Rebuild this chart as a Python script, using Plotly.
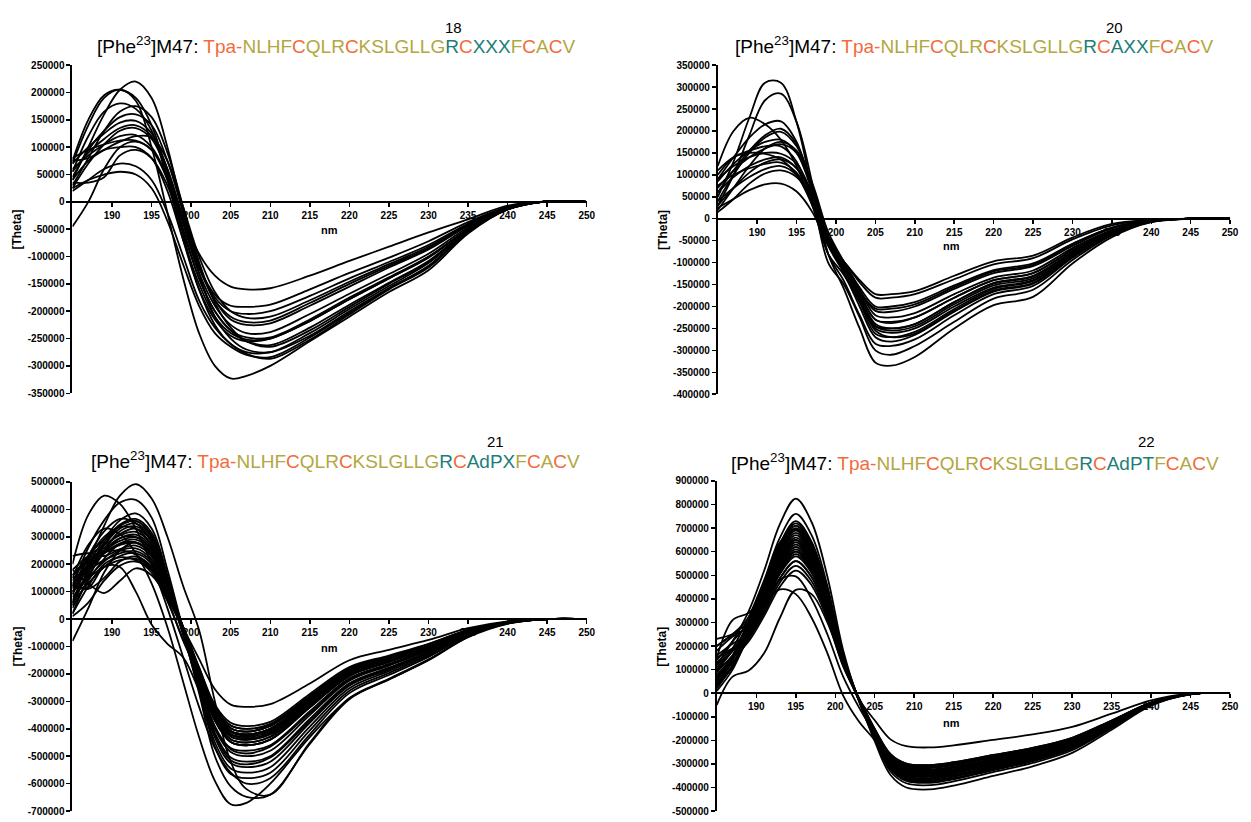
import plotly.graph_objects as go

W, H = 1251, 822
FONT = "Arial, Liberation Sans, sans-serif"

# ---------------- data (theta values in thousands of deg*cm2/dmol) ----------------
WL_18 = [185, 187, 189, 191, 193, 195, 197, 199, 201, 203, 205, 207, 210, 215, 220, 225, 230, 235, 240, 245, 250]
THETA18_K = [
    [70, 140, 190, 205, 185, 100, -20, -140, -240, -300, -323, -318, -300, -255, -210, -165, -125, -58, -14, 1, 0],
    [40, 100, 160, 205, 220, 190, 100, -20, -130, -210, -250, -270, -275, -245, -200, -158, -118, -55, -14, 1, 0],
    [55, 120, 165, 180, 170, 130, 40, -70, -160, -215, -245, -255, -250, -218, -178, -140, -102, -50, -12, 1, 0],
    [30, 80, 130, 165, 175, 155, 90, -10, -110, -185, -230, -255, -265, -235, -192, -150, -110, -53, -13, 1, 0],
    [45, 95, 130, 155, 160, 140, 75, -20, -115, -180, -215, -225, -222, -190, -155, -120, -87, -44, -11, 1, 0],
    [70, 100, 125, 145, 148, 125, 60, -40, -130, -190, -225, -240, -238, -205, -168, -132, -95, -47, -12, 1, 0],
    [25, 70, 105, 130, 135, 115, 55, -35, -120, -175, -200, -205, -200, -172, -140, -110, -79, -40, -10, 1, 0],
    [60, 85, 105, 120, 122, 100, 45, -30, -95, -135, -155, -160, -158, -135, -108, -82, -56, -32, -7, 1, 0],
    [80, 95, 105, 112, 112, 95, 45, -40, -120, -170, -190, -192, -188, -160, -130, -102, -72, -37, -9, 1, 0],
    [75, 80, 95, 100, 100, 80, 20, -70, -150, -210, -240, -252, -250, -218, -178, -140, -101, -50, -12, 1, 0],
    [-45, 0, 60, 100, 110, 95, 40, -50, -140, -200, -235, -248, -248, -215, -175, -138, -100, -50, -12, 1, 0],
    [35, 35, 45, 85, 95, 80, 30, -55, -140, -200, -235, -255, -262, -230, -188, -148, -108, -52, -13, 1, 0],
    [20, 40, 60, 70, 65, 40, -20, -100, -180, -230, -260, -278, -287, -252, -206, -160, -120, -56, -14, 1, 0],
    [25, 40, 50, 55, 50, 25, -35, -115, -190, -240, -265, -280, -284, -248, -203, -158, -117, -55, -14, 1, 0],
    [55, 90, 115, 135, 140, 120, 60, -30, -120, -180, -210, -220, -217, -185, -150, -117, -85, -43, -11, 1, 0],
    [40, 75, 95, 110, 120, 118, 75, -10, -100, -165, -200, -212, -210, -180, -146, -114, -82, -41, -10, 1, 0],
    [75, 150, 195, 205, 190, 140, 50, -60, -160, -225, -260, -275, -275, -240, -196, -154, -112, -54, -13, 1, 0],
]

WL_20 = [185, 187, 189, 191, 193, 195, 197, 199, 201, 203, 205, 207, 210, 215, 220, 225, 230, 235, 240, 245, 250]
THETA20_K = [
    [50, 130, 230, 310, 310, 220, 60, -100, -150, -225, -300, -310, -290, -235, -182, -162, -94, -38, -7, 0, 0],
    [30, 100, 190, 270, 285, 220, 80, -80, -160, -250, -328, -335, -315, -250, -197, -178, -102, -42, -8, 0, 0],
    [120, 200, 230, 215, 180, 120, 30, -80, -128, -190, -245, -250, -240, -190, -146, -130, -76, -30, -6, 0, 0],
    [90, 140, 185, 215, 222, 175, 60, -80, -142, -220, -285, -290, -275, -220, -172, -153, -89, -36, -7, 0, 0],
    [60, 110, 155, 190, 205, 170, 70, -60, -124, -200, -270, -280, -265, -212, -166, -148, -86, -34, -7, 0, 0],
    [40, 100, 150, 185, 198, 165, 75, -40, -105, -170, -230, -238, -225, -180, -140, -124, -72, -28, -6, 0, 0],
    [85, 125, 155, 175, 180, 150, 60, -60, -112, -165, -210, -212, -200, -160, -124, -108, -62, -22, -5, 0, 0],
    [20, 70, 120, 160, 175, 155, 80, -30, -98, -157, -200, -200, -190, -152, -117, -102, -57, -20, -4, 0, 0],
    [100, 140, 155, 165, 165, 130, 40, -60, -98, -140, -172, -172, -165, -130, -97, -84, -43, -12, -3, 0, 0],
    [110, 140, 150, 148, 135, 100, 30, -60, -98, -145, -180, -180, -172, -138, -104, -90, -47, -15, -3, 0, 0],
    [60, 95, 120, 135, 140, 115, 50, -50, -110, -180, -245, -255, -245, -195, -152, -136, -79, -32, -6, 0, 0],
    [30, 70, 105, 128, 135, 115, 55, -40, -105, -175, -240, -250, -240, -190, -148, -132, -76, -30, -6, 0, 0],
    [75, 100, 115, 125, 128, 105, 40, -60, -116, -183, -250, -260, -250, -200, -157, -140, -81, -33, -6, 0, 0],
    [40, 70, 95, 113, 120, 100, 40, -50, -105, -170, -230, -235, -225, -180, -140, -124, -71, -28, -5, 0, 0],
    [15, 45, 80, 103, 110, 95, 45, -40, -98, -162, -220, -225, -215, -172, -134, -118, -67, -26, -5, 0, 0],
    [25, 45, 65, 78, 80, 62, 15, -60, -112, -183, -255, -270, -262, -210, -164, -146, -85, -34, -6, 0, 0],
    [70, 110, 140, 160, 170, 150, 70, -50, -112, -166, -205, -205, -195, -156, -120, -105, -58, -21, -4, 0, 0],
    [90, 120, 140, 150, 148, 125, 55, -55, -120, -190, -262, -270, -258, -206, -160, -142, -83, -33, -6, 0, 0],
]

WL_21 = [185, 187, 189, 191, 193, 195, 197, 199, 201, 203, 205, 207, 210, 215, 220, 225, 230, 235, 240, 245, 250]
THETA21_K = [
    [60, 210, 340, 450, 492, 440, 300, 120, -40, -300, -520, -620, -640, -450, -288, -218, -147, -64, -16, 0, 0],
    [200, 380, 450, 420, 330, 200, 40, -140, -320, -470, -560, -600, -580, -420, -270, -204, -138, -60, -15, 0, 0],
    [120, 260, 360, 425, 435, 370, 180, -40, -250, -450, -545, -560, -540, -392, -252, -190, -129, -56, -14, 0, 0],
    [90, 200, 290, 360, 385, 330, 160, -50, -260, -465, -565, -580, -560, -406, -261, -197, -133, -58, -14, 0, 0],
    [150, 270, 330, 310, 240, 130, -30, -230, -430, -590, -675, -670, -600, -430, -290, -220, -150, -66, -17, 0, 0],
    [50, 180, 280, 345, 365, 315, 150, -40, -240, -420, -515, -530, -505, -371, -238, -180, -122, -53, -13, 0, 0],
    [140, 230, 290, 340, 358, 305, 145, -35, -220, -390, -475, -490, -465, -343, -220, -167, -113, -49, -12, 0, 0],
    [100, 190, 270, 330, 348, 298, 140, -35, -210, -370, -448, -460, -438, -322, -207, -156, -106, -46, -12, 0, 0],
    [20, 150, 250, 320, 338, 290, 136, -34, -200, -360, -438, -450, -428, -315, -202, -153, -103, -45, -11, 0, 0],
    [130, 200, 260, 310, 330, 285, 135, -30, -190, -335, -408, -420, -400, -294, -189, -143, -97, -42, -11, 0, 0],
    [180, 230, 270, 305, 318, 270, 125, -35, -190, -340, -412, -425, -405, -298, -191, -145, -98, -43, -11, 0, 0],
    [70, 160, 240, 295, 308, 262, 120, -35, -200, -352, -428, -440, -420, -308, -198, -150, -101, -44, -11, 0, 0],
    [160, 210, 250, 285, 298, 252, 115, -30, -195, -348, -422, -435, -415, -305, -196, -148, -100, -44, -11, 0, 0],
    [40, 140, 220, 275, 290, 245, 110, -30, -180, -320, -388, -400, -382, -280, -180, -136, -92, -40, -10, 0, 0],
    [120, 190, 240, 270, 278, 235, 105, -40, -210, -368, -448, -460, -440, -322, -207, -156, -106, -46, -12, 0, 0],
    [230, 240, 230, 255, 268, 228, 105, -30, -185, -328, -398, -410, -390, -287, -184, -139, -94, -41, -10, 0, 0],
    [80, 150, 210, 250, 258, 218, 100, -35, -190, -336, -408, -420, -400, -294, -189, -143, -97, -42, -11, 0, 0],
    [150, 180, 215, 240, 248, 210, 95, -40, -195, -344, -418, -430, -410, -301, -193, -146, -99, -43, -11, 0, 0],
    [60, 130, 190, 230, 240, 202, 92, -30, -175, -312, -378, -390, -375, -273, -175, -133, -90, -39, -10, 0, 0],
    [120, 110, 150, 210, 228, 192, 88, -35, -180, -320, -388, -400, -385, -280, -180, -136, -92, -40, -10, 0, 0],
    [100, 150, 190, 215, 220, 185, 80, -40, -190, -336, -408, -420, -400, -294, -189, -143, -97, -42, -11, 0, 0],
    [130, 115, 190, 190, 100, -20, -90, -140, -260, -400, -470, -480, -460, -336, -216, -163, -110, -48, -12, 0, 0],
    [180, 130, 95, 140, 185, 160, 75, -40, -185, -328, -398, -410, -390, -287, -184, -139, -94, -41, -10, 0, 0],
    [10, 60, 140, 195, 210, 180, 82, -35, -185, -328, -398, -410, -390, -287, -184, -139, -94, -41, -10, 0, 0],
    [-80, 40, 170, 250, 280, 238, 110, -35, -200, -352, -428, -440, -420, -308, -198, -150, -101, -44, -11, 0, 0],
    [110, 230, 320, 365, 350, 280, 120, -60, -245, -432, -525, -540, -520, -378, -243, -184, -124, -54, -14, 0, 0],
    [50, 170, 250, 295, 300, 255, 115, -45, -235, -415, -505, -520, -500, -364, -234, -177, -120, -52, -13, 0, 0],
    [90, 220, 300, 335, 330, 270, 130, -50, -270, -500, -610, -648, -640, -455, -292, -220, -149, -65, -16, 0, 0],
    [100, 180, 240, 275, 280, 238, 110, -30, -145, -256, -312, -320, -310, -235, -150, -112, -76, -33, -8, 0, 0],
    [160, 220, 245, 250, 235, 180, 70, -80, -210, -370, -448, -460, -440, -322, -207, -156, -106, -46, -12, 0, 0],
    [20, 120, 200, 225, 215, 170, 65, -75, -205, -360, -438, -450, -430, -315, -202, -153, -103, -45, -11, 0, 0],
    [60, 170, 270, 340, 358, 305, 145, -40, -225, -400, -485, -500, -480, -350, -225, -170, -115, -50, -13, 0, 0],
]

WL_22 = [185, 187, 189, 191, 193, 195, 197, 199, 201, 203, 205, 207, 209, 212, 215, 220, 225, 230, 235, 240, 245, 250]
THETA22_K = [
    [120, 220, 345, 520, 718, 825, 726, 495, 182, -35, -195, -332, -382, -390, -374, -335, -296, -242, -148, -51, -5, 0],
    [90, 190, 320, 480, 660, 760, 670, 456, 167, -30, -190, -323, -372, -380, -365, -327, -289, -236, -144, -49, -4, 0],
    [60, 160, 305, 460, 635, 730, 642, 438, 160, -30, -185, -315, -362, -370, -355, -318, -281, -229, -141, -48, -4, 0],
    [140, 220, 300, 455, 625, 720, 634, 432, 158, -30, -188, -319, -368, -375, -360, -322, -285, -232, -142, -49, -4, 0],
    [30, 140, 295, 440, 610, 700, 616, 420, 154, -28, -178, -302, -348, -355, -341, -305, -270, -220, -135, -46, -4, 0],
    [100, 180, 290, 435, 600, 690, 607, 414, 152, -28, -180, -306, -353, -360, -346, -310, -274, -223, -137, -47, -4, 0],
    [50, 150, 285, 428, 592, 680, 598, 408, 150, -27, -176, -299, -345, -352, -338, -303, -268, -218, -134, -46, -4, 0],
    [180, 240, 285, 422, 583, 670, 590, 402, 147, -27, -183, -310, -358, -365, -350, -314, -277, -226, -139, -47, -4, 0],
    [20, 120, 277, 416, 574, 660, 581, 396, 145, -26, -170, -289, -333, -340, -326, -292, -258, -211, -129, -44, -3, 0],
    [110, 180, 273, 410, 566, 650, 572, 390, 143, -26, -171, -291, -335, -342, -328, -294, -260, -212, -130, -44, -3, 0],
    [230, 250, 280, 403, 557, 640, 563, 384, 141, -26, -172, -293, -338, -345, -331, -297, -262, -214, -131, -45, -3, 0],
    [70, 150, 265, 397, 548, 630, 554, 378, 139, -25, -168, -285, -328, -335, -322, -288, -255, -208, -127, -44, -3, 0],
    [130, 190, 260, 391, 539, 620, 546, 372, 136, -25, -169, -287, -331, -338, -324, -291, -257, -210, -128, -44, -3, 0],
    [40, 120, 256, 384, 531, 610, 537, 366, 134, -24, -162, -276, -318, -325, -312, -280, -247, -202, -124, -42, -3, 0],
    [160, 210, 252, 378, 522, 600, 528, 360, 132, -24, -162, -276, -318, -325, -312, -280, -247, -202, -124, -42, -3, 0],
    [90, 160, 248, 372, 513, 590, 519, 354, 130, -24, -159, -270, -312, -318, -305, -273, -242, -197, -121, -41, -3, 0],
    [10, 100, 244, 365, 505, 580, 510, 348, 128, -23, -156, -265, -306, -312, -300, -268, -237, -193, -119, -41, -3, 0],
    [150, 190, 235, 353, 487, 560, 493, 336, 123, -22, -155, -264, -304, -310, -298, -267, -236, -192, -118, -40, -3, 0],
    [60, 130, 227, 340, 470, 540, 475, 324, 119, -22, -152, -259, -299, -305, -293, -262, -232, -189, -116, -40, -3, 0],
    [100, 150, 218, 328, 452, 520, 458, 312, 114, -21, -152, -259, -299, -305, -293, -262, -232, -189, -116, -40, -3, 0],
    [120, 180, 250, 370, 480, 495, 400, 250, 70, -60, -170, -270, -310, -315, -302, -271, -239, -195, -120, -41, -3, 0],
    [200, 250, 300, 380, 440, 420, 320, 170, -10, -120, -200, -300, -343, -350, -336, -301, -266, -217, -133, -46, -4, 0],
    [-50, 70, 95, 170, 320, 438, 420, 300, 120, -30, -165, -276, -318, -325, -312, -280, -247, -202, -124, -42, -3, 0],
    [80, 150, 252, 378, 522, 600, 528, 360, 132, -24, -115, -196, -225, -230, -221, -198, -175, -143, -87, -30, -2, 0],
    [40, 140, 298, 447, 618, 710, 625, 426, 156, -28, -204, -347, -400, -408, -392, -351, -310, -253, -155, -53, -5, 0],
    [150, 310, 340, 410, 566, 650, 572, 390, 143, -26, -171, -291, -335, -342, -328, -294, -260, -212, -130, -44, -3, 0],
    [200, 250, 320, 470, 640, 695, 600, 400, 140, -30, -175, -298, -343, -350, -336, -301, -266, -217, -133, -46, -4, 0],
    [30, 110, 235, 353, 487, 560, 493, 336, 123, -22, -165, -281, -323, -330, -317, -284, -251, -205, -125, -43, -3, 0],
]

X_TICKS = [190, 195, 200, 205, 210, 215, 220, 225, 230, 235, 240, 245, 250]

ORANGE = "#F26B3A"
OLIVE = "#B2A740"
TEAL = "#1C7E78"

SEQ_HEAD = [("Tpa-", ORANGE), ("NLHF", OLIVE), ("C", ORANGE), ("QLR", OLIVE), ("C", ORANGE),
            ("KSLGLLG", OLIVE), ("R", TEAL), ("C", ORANGE)]
SEQ_TAIL = [("F", OLIVE), ("C", ORANGE), ("A", OLIVE), ("C", ORANGE), ("V", OLIVE)]
VARIANTS = ["XXX", "AXX", "AdPX", "AdPT"]
LABELS = ["18", "20", "21", "22"]

# panel geometry in pixels: x0, x1, ytop, ybottom, ymin, ymax, dtick
PANELS = [
    dict(wl=WL_18, data=THETA18_K, x0=73, x1=591, yt=60, yb=393, ymin=-350000, ymax=250000, dt=50000,
         title_xy=(338, 40), num_xy=(457, 22), theta_xy=(17, 227), nm_xy=(332, 227)),
    dict(wl=WL_20, data=THETA20_K, x0=723, x1=1239, yt=60, yb=394, ymin=-400000, ymax=350000, dt=50000,
         title_xy=(981, 40), num_xy=(1123, 22), theta_xy=(667, 227), nm_xy=(958, 244)),
    dict(wl=WL_21, data=THETA21_K, x0=73, x1=591, yt=483, yb=817, ymin=-700000, ymax=500000, dt=100000,
         title_xy=(338, 461), num_xy=(499, 442), theta_xy=(18, 650), nm_xy=(332, 652)),
    dict(wl=WL_22, data=THETA22_K, x0=722, x1=1239, yt=482, yb=817, ymin=-500000, ymax=900000, dt=100000,
         title_xy=(982, 463), num_xy=(1155, 442), theta_xy=(666, 650), nm_xy=(958, 728)),
]


def px(xp):
    return xp / W


def py(yp):
    return 1 - yp / H


fig = go.Figure()
annotations = []
layout = {}

for i, p in enumerate(PANELS):
    n = "" if i == 0 else str(i + 1)
    xref, yref = "x" + n, "y" + n
    for curve in p["data"]:
        fig.add_trace(go.Scatter(
            x=p["wl"], y=[v * 1000 for v in curve], mode="lines",
            line=dict(color="black", width=1.8, shape="spline", smoothing=1),
            xaxis=xref, yaxis=yref, hoverinfo="skip", showlegend=False))

    ybot, ytop = py(p["yb"]), py(p["yt"])
    zero_pos = ybot + (0 - p["ymin"]) / (p["ymax"] - p["ymin"]) * (ytop - ybot)
    yt_vals = list(range(p["ymin"], p["ymax"] + 1, p["dt"]))
    tickfont = dict(family=FONT, size=10, color="black", weight="bold")
    layout["xaxis" + n] = dict(
        domain=[px(p["x0"]), px(p["x1"])], range=[185, 250], anchor="free", position=zero_pos,
        showline=True, linecolor="black", linewidth=2, ticks="outside", ticklen=4, tickwidth=1.5,
        tickcolor="black", tickvals=X_TICKS, ticktext=[str(v) for v in X_TICKS], tickfont=tickfont,
        showgrid=False, zeroline=False, fixedrange=True)
    layout["yaxis" + n] = dict(
        domain=[ybot, ytop], range=[p["ymin"], p["ymax"]], anchor=xref,
        showline=True, linecolor="black", linewidth=2, ticks="outside", ticklen=4, tickwidth=1.5,
        tickcolor="black", tickvals=yt_vals, ticktext=[str(v) for v in yt_vals], tickfont=tickfont,
        showgrid=False, zeroline=False, fixedrange=True)

    segs = SEQ_HEAD + [(VARIANTS[i], TEAL)] + SEQ_TAIL
    body = "".join('<span style="color:%s">%s</span>' % (c, t) for t, c in segs)
    title = "[Phe<sup>23</sup>]M47: " + body
    tx, ty = p["title_xy"]
    annotations.append(dict(text=title, x=px(tx), y=py(ty), xref="paper", yref="paper",
                            xanchor="center", yanchor="middle", showarrow=False,
                            font=dict(family=FONT, size=19, color="black")))
    nx, ny = p["num_xy"]
    annotations.append(dict(text=LABELS[i], x=px(nx), y=py(ny), xref="paper", yref="paper",
                            xanchor="center", yanchor="middle", showarrow=False,
                            font=dict(family=FONT, size=15, color="black")))
    thx, thy = p["theta_xy"]
    annotations.append(dict(text="[Theta]", x=px(thx), y=py(thy), xref="paper", yref="paper",
                            xanchor="center", yanchor="middle", showarrow=False, textangle=-90,
                            font=dict(family=FONT, size=12, color="black", weight="bold")))
    nmx, nmy = p["nm_xy"]
    annotations.append(dict(text="nm", x=px(nmx), y=py(nmy), xref="paper", yref="paper",
                            xanchor="center", yanchor="middle", showarrow=False,
                            font=dict(family=FONT, size=11, color="black", weight="bold")))

fig.update_layout(
    width=W, height=H, margin=dict(l=0, r=0, t=0, b=0),
    paper_bgcolor="white", plot_bgcolor="white", showlegend=False,
    annotations=annotations, **layout)

fig.write_html(
    "out.html",
    config={"displayModeBar": False, "staticPlot": True},
    post_script="document.body.style.margin='0';document.body.style.padding='0';"
                "document.body.style.overflow='hidden';"
                "document.documentElement.style.overflow='hidden';")
